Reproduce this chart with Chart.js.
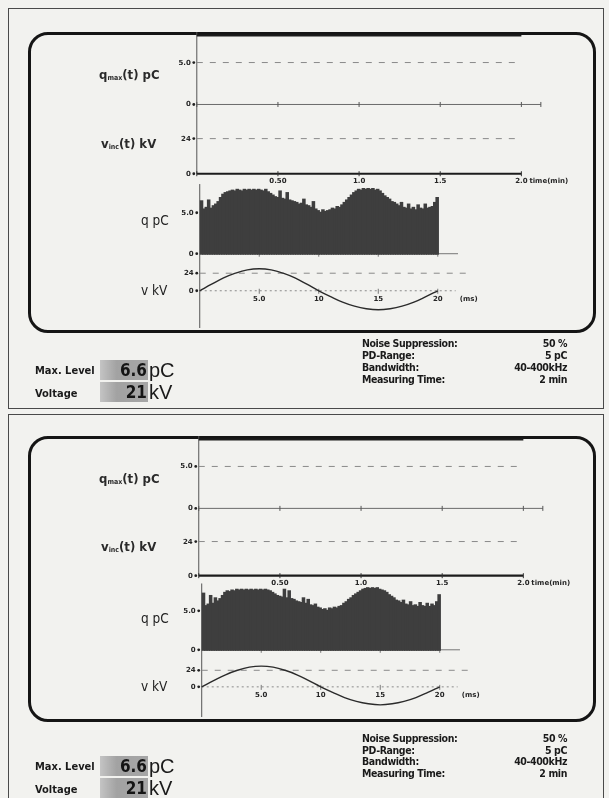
<!DOCTYPE html>
<html>
<head>
<meta charset="utf-8">
<title>PD measurement printout</title>
<script src="https://cdn.jsdelivr.net/npm/chart.js@4.4.1/dist/chart.umd.min.js"></script>
<style>
  html, body { margin: 0; padding: 0; }
  body { width: 609px; height: 798px; overflow: hidden; position: relative; background: #f2f2ef; color: #1d1d1d;
         font-family: "Liberation Sans Narrow", "DejaVu Sans Condensed", "Liberation Sans", sans-serif; }
  .frame { position: absolute; left: 8px; width: 594px; border: 1.5px solid #4a4a4a; }
  .panel { position: absolute; left: 0; width: 609px; height: 405px; }
  .box { position: absolute; left: 28px; width: 562px; border: 3.5px solid #151515; border-radius: 20px; }
  canvas { position: absolute; left: 0; top: 0; }
  .t { position: absolute; white-space: nowrap; line-height: 1; font-weight: bold; }
  .tk { font: bold 7px "DejaVu Sans", sans-serif; color: #262626; }
  .ax { font-size: 13px; color: #2a2a2a; }
  .ax sub { font-size: 7px; vertical-align: -1px; }
  .big { font-size: 13.5px; font-weight: normal; color: #222; }
  .lab { font-size: 11px; color: #1a1a1a; }
  .info { font-size: 10.5px; letter-spacing: -0.4px; color: #1a1a1a; }
  .lvl { position: absolute; left: 100px; width: 48px; height: 20px; background: linear-gradient(90deg, #c4c4c4, #a2a2a2 35%, #a6a6a6); }
  .num { font-size: 17px; color: #151515; }
  .unit { font: 20px "Liberation Sans", sans-serif; color: #1a1a1a; }
</style>
</head>
<body>
<div class="frame" style="top:8px;height:399px"></div>
<div class="frame" style="top:414px;height:400px"></div>

<script>
// trend over measuring time (min)
const trendMin = [0, 0.5, 1.0, 1.5, 2.0, 2.12];
const qmaxTrend = [0, 0, 0, 0, 0, 0];
const vincMin = [0, 0.5, 1.0, 1.5, 2.0];
const vincTrend = [0, 0, 0, 0, 0];

// phase resolved pattern, 0.2 ms bins over one 20 ms cycle
const qPhase1 = [
  6.4, 5.4, 5.6, 6.5, 5.5, 5.8, 6.0, 6.3, 6.8, 7.2, 7.4, 7.5,
  7.6, 7.7, 7.6, 7.8, 7.7, 7.6, 7.8, 7.7, 7.8, 7.7, 7.8, 7.7, 7.8, 7.7, 7.6, 7.8, 7.5,
  7.3, 7.1, 6.9, 6.8, 7.6, 6.7, 6.6, 7.4, 6.5, 6.4,
  6.3, 6.2, 6.0, 6.1, 6.6, 5.9, 5.8, 5.6, 6.3, 5.4,
  5.2, 5.0, 5.3, 5.1, 5.2, 5.3,
  5.5, 5.4, 5.7, 5.6, 5.9,
  6.2, 6.5, 6.8, 7.1, 7.4,
  7.6, 7.8, 7.7, 7.9, 7.8, 7.9, 7.8, 7.9, 7.7, 7.8, 7.6,
  7.3, 7.0, 6.8, 6.6, 6.3, 6.2, 6.0,
  5.8, 6.2, 5.6, 5.5, 6.0, 5.4, 5.6, 5.3, 5.9, 5.5, 5.4, 6.0, 5.5, 5.6, 5.7, 6.2, 6.8
];
const qPhase2 = [
  7.2, 5.6, 5.8, 6.9, 5.9, 6.6, 6.2, 6.5, 6.9, 7.3, 7.5, 7.4,
  7.6, 7.5, 7.7, 7.6, 7.7, 7.6, 7.7, 7.6, 7.7, 7.6, 7.7, 7.6, 7.7, 7.6, 7.7, 7.6, 7.5, 7.3, 7.1,
  6.9, 6.8, 6.7, 7.7, 6.6, 7.5, 6.5, 6.4,
  6.2, 6.1, 6.0, 6.6, 5.9, 6.4, 5.7, 5.6, 5.8, 5.4,
  5.3, 5.1, 5.2, 5.0, 5.3, 5.2, 5.4, 5.3, 5.5, 5.6,
  5.9, 6.1, 6.4, 6.6, 6.9, 7.1, 7.3, 7.5,
  7.7, 7.8, 7.9, 7.8, 7.9, 7.8, 7.9, 7.7, 7.6, 7.5, 7.3,
  7.0, 6.8, 6.6, 6.3, 6.2, 6.0,
  6.3, 5.8, 5.7, 6.1, 5.6, 5.7, 5.5, 6.0, 5.6, 5.5, 5.9, 5.5, 5.8, 5.6, 6.1, 7.0
];

// test voltage over one cycle
const sineMs = [0, 1, 2, 3, 4, 5, 6, 7, 8, 9, 10, 11, 12, 13, 14, 15, 16, 17, 18, 19, 20];
const sineKv = [0, 9, 17.5, 24, 28.5, 30, 28.5, 24, 17.5, 9, 0, -8, -15.5, -21, -24.5, -26, -24.5, -21, -15.5, -8, 0];

// tick labels
const timeTicks = [0.5, 1.0, 1.5, 2.0];
const timeLabels = ['0.50', '1.0', '1.5', '2.0'];
const qmaxTicks = [5, 0];
const qmaxLabels = ['5.0', '0'];
const vincTicks = [24, 0];
const vincLabels = ['24', '0'];
const qTicks = [5, 0];
const qLabels = ['5.0', '0'];
const vTicks = [24, 0];
const vLabels = ['24', '0'];
const phaseTicks = [5, 10, 15, 20];
const phaseLabels = ['5.0', '10', '15', '20'];

// instrument readout
const infoLabels = ['Noise Suppression:', 'PD-Range:', 'Bandwidth:', 'Measuring Time:'];
const infoValues = ['50 %', '5 pC', '40-400kHz', '2 min'];
const maxLevel = '6.6';
const voltage = '21';

// panel layouts: where two known values sit (value, pixel, value, pixel), box and readout rows
const layout1 = {
  xt: [0, 195, 2, 525], yq: [0, 102, 5, 59], yv: [0, 173, 24, 137],
  xp: [0, 198, 20, 440], yp: [0, 255, 5, 213], ys: [0, 293, 24, 275],
  boxTop: 32, boxBottom: 334, infoY: [343, 355, 367, 379], lvlY: [360, 382]
};
const layout2 = {
  xt: [0, 197, 2, 527], yq: [0, 106, 5, 63], yv: [0, 175, 24, 140],
  xp: [0, 200, 20, 442], yp: [0, 251, 5, 211], ys: [0, 289, 24, 272],
  boxTop: 36, boxBottom: 323, infoY: [338, 350, 361, 373], lvlY: [356, 378]
};
const W = 609, H = 405;

function fit(g, size, vertical) {
  const [a, pa, b, pb] = g;
  if (!vertical) {
    const k = (pb - pa) / (b - a);
    const min = a - pa / k;
    return { min, max: min + size / k };
  }
  const k = (pa - pb) / (b - a);
  const max = a + pa / k;
  return { min: max - size / k, max };
}

function seg(ctx, x1, y1, x2, y2) {
  ctx.beginPath(); ctx.moveTo(x1, y1); ctx.lineTo(x2, y2); ctx.stroke();
}

const refLines = {
  id: 'refLines',
  beforeDatasetsDraw(chart, args, opts) {
    const { ctx, scales: s } = chart;
    const P = (id, v) => s[id].getPixelForValue(v);
    ctx.save();
    ctx.strokeStyle = '#555'; ctx.lineWidth = 1;
    // left axes
    seg(ctx, P('xt', 0), opts.top, P('xt', 0), P('yv', 0));
    seg(ctx, P('xp', 0), P('yp', 8.5), P('xp', 0), opts.bottom - 6);
    // heavier top edge over the trend window
    ctx.strokeStyle = '#1c1c1c'; ctx.lineWidth = 2;
    seg(ctx, P('xt', 0), opts.top + 3.5, P('xt', 2), opts.top + 3.5);
    // dashed levels
    ctx.lineWidth = 1;
    ctx.strokeStyle = '#8a8a8a';
    ctx.setLineDash([6, 7]);
    seg(ctx, P('xt', 0), P('yq', 5), P('xt', 2), P('yq', 5));
    seg(ctx, P('xt', 0), P('yv', 24), P('xt', 2), P('yv', 24));
    seg(ctx, P('xp', 0), P('ys', 24), P('xp', 22.5), P('ys', 24));
    ctx.setLineDash([2, 3]);
    seg(ctx, P('xp', 0), P('ys', 0), P('xp', 21.5), P('ys', 0));
    ctx.setLineDash([]);
    ctx.strokeStyle = '#777';
    seg(ctx, P('xp', 0), P('yp', 0), P('xp', 21.7), P('yp', 0));
    phaseTicks.forEach(v => {
      seg(ctx, P('xp', v), P('ys', 0) - 2, P('xp', v), P('ys', 0) + 3);
      seg(ctx, P('xp', v), P('yp', 0) - 1, P('xp', v), P('yp', 0) + 3);
    });
    // tick dots
    ctx.fillStyle = '#222';
    const dot = (x, y) => { ctx.beginPath(); ctx.arc(x, y, 1.4, 0, Math.PI * 2); ctx.fill(); };
    qmaxTicks.forEach(v => dot(P('xt', 0) - 3, P('yq', v)));
    vincTicks.forEach(v => dot(P('xt', 0) - 3, P('yv', v)));
    qTicks.forEach(v => dot(P('xp', 0) - 3, P('yp', v)));
    vTicks.forEach(v => dot(P('xp', 0) - 3, P('ys', v)));
    ctx.restore();
  }
};

function put(el, html, x, y, cls, align) {
  const d = document.createElement('div');
  d.className = 't ' + (cls || '');
  d.innerHTML = html;
  d.style.left = x + 'px';
  d.style.top = y + 'px';
  const tx = align === 'r' ? '-100%' : align === 'c' ? '-50%' : '0';
  d.style.transform = `translate(${tx}, -50%)`;
  el.appendChild(d);
  return d;
}

function buildPanel(top, qValues, L) {
  const p = document.createElement('div');
  p.className = 'panel';
  p.style.top = top + 'px';
  document.body.appendChild(p);
  const box = document.createElement('div');
  box.className = 'box';
  box.style.top = L.boxTop + 'px';
  box.style.height = (L.boxBottom - L.boxTop - 7) + 'px';
  p.appendChild(box);
  const cv = document.createElement('canvas');
  cv.width = W; cv.height = H;
  p.appendChild(cv);

  const binMs = qValues.map((_, i) => 0.1 + i * 0.2);
  const sc = (axis, r) => ({ type: 'linear', axis, display: false, offset: false, min: r.min, max: r.max });

  const chart = new Chart(cv, {
    type: 'bar',
    data: {
      datasets: [
        {
          type: 'line', xAxisID: 'xt', yAxisID: 'yq',
          data: trendMin.map((t, i) => ({ x: t, y: qmaxTrend[i] })),
          borderColor: '#6a6a6a', borderWidth: 1,
          pointStyle: 'line', rotation: 90, pointRadius: 2.5, pointBorderColor: '#555', pointBorderWidth: 1
        },
        {
          type: 'line', xAxisID: 'xt', yAxisID: 'yv',
          data: vincMin.map((t, i) => ({ x: t, y: vincTrend[i] })),
          borderColor: '#1c1c1c', borderWidth: 2.2,
          pointStyle: 'line', rotation: 90, pointRadius: 2.5, pointBorderColor: '#333', pointBorderWidth: 1
        },
        {
          type: 'bar', xAxisID: 'xp', yAxisID: 'yp',
          data: binMs.map((m, i) => ({ x: m, y: qValues[i] })),
          backgroundColor: '#3e3e3e', borderWidth: 0, inflateAmount: 1,
          barPercentage: 1.3, categoryPercentage: 1
        },
        {
          type: 'line', xAxisID: 'xp', yAxisID: 'ys',
          data: sineMs.map((m, i) => ({ x: m, y: sineKv[i] })),
          borderColor: '#2b2b2b', borderWidth: 1.4, tension: 0.4, pointRadius: 0
        }
      ]
    },
    options: {
      responsive: false, animation: false, events: [],
      layout: { padding: 0 },
      plugins: {
        legend: { display: false }, tooltip: { enabled: false },
        refLines: { top: L.boxTop, bottom: L.boxBottom }
      },
      scales: {
        xt: sc('x', fit(L.xt, W, false)),
        yq: sc('y', fit(L.yq, H, true)),
        yv: sc('y', fit(L.yv, H, true)),
        xp: sc('x', fit(L.xp, W, false)),
        yp: sc('y', fit(L.yp, H, true)),
        ys: sc('y', fit(L.ys, H, true))
      }
    },
    plugins: [refLines]
  });

  const s = chart.scales;
  const P = (id, v) => s[id].getPixelForValue(v);
  // axis captions
  put(p, 'q<sub>max</sub>(t) pC', 99, P('yq', 3.5), 'ax');
  put(p, 'v<sub>inc</sub>(t) kV', 101, P('yv', 20), 'ax');
  put(p, 'q pC', 141, P('yp', 4), 'big');
  put(p, 'v kV', 141, P('ys', 0), 'big');
  // tick labels
  qmaxTicks.forEach((v, i) => put(p, qmaxLabels[i], P('xt', 0) - 6, P('yq', v), 'tk', 'r'));
  vincTicks.forEach((v, i) => put(p, vincLabels[i], P('xt', 0) - 6, P('yv', v), 'tk', 'r'));
  timeTicks.forEach((v, i) => put(p, timeLabels[i], P('xt', v), P('yv', 0) + 7, 'tk', 'c'));
  put(p, 'time(min)', P('xt', 2) + 8, P('yv', 0) + 7, 'tk');
  qTicks.forEach((v, i) => put(p, qLabels[i], P('xp', 0) - 6, P('yp', v), 'tk', 'r'));
  vTicks.forEach((v, i) => put(p, vLabels[i], P('xp', 0) - 6, P('ys', v), 'tk', 'r'));
  phaseTicks.forEach((v, i) => put(p, phaseLabels[i], P('xp', v), P('ys', 0) + 8, 'tk', 'c'));
  put(p, '(ms)', P('xp', 20) + 22, P('ys', 0) + 8, 'tk');

  // readout block
  put(p, 'Max. Level', 35, L.lvlY[0] + 10, 'lab');
  put(p, 'Voltage', 35, L.lvlY[1] + 11, 'lab');
  [[L.lvlY[0], maxLevel, 'pC'], [L.lvlY[1], voltage, 'kV']].forEach(([y, val, unit]) => {
    const b = document.createElement('div');
    b.className = 'lvl';
    b.style.top = y + 'px';
    p.appendChild(b);
    put(p, val, 147, y + 10, 'num', 'r');
    put(p, unit, 149, y + 10, 'unit');
  });
  infoLabels.forEach((lab, i) => {
    put(p, lab, 362, L.infoY[i], 'info');
    put(p, infoValues[i], 567, L.infoY[i], 'info', 'r');
  });
}

buildPanel(0, qPhase1, layout1);
buildPanel(400, qPhase2, layout2);
</script>
</body>
</html>
